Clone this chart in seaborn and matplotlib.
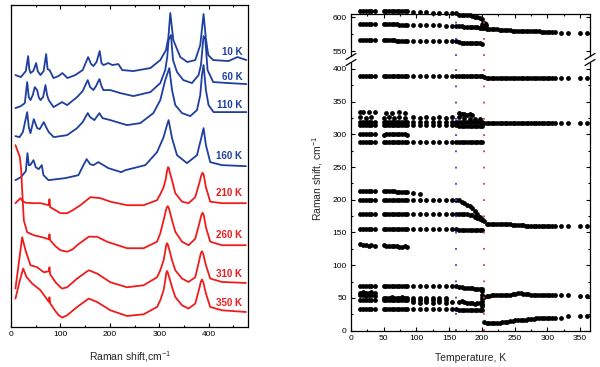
import matplotlib
matplotlib.use("Agg")
import matplotlib.pyplot as plt
from matplotlib.ticker import MultipleLocator
from matplotlib.lines import Line2D
import pandas as pd
import seaborn as sns

sns.set_theme(style="white")
plt.rcParams['font.family'] = ['Liberation Sans', 'DejaVu Sans']
plt.rcParams['mathtext.fontset'] = 'custom'
plt.rcParams['mathtext.rm'] = 'Liberation Sans'
plt.rcParams['mathtext.it'] = 'Liberation Sans:italic'
plt.rcParams['mathtext.bf'] = 'Liberation Sans:bold'

# ---------------- Left panel: Raman spectra (shift in cm-1, stacked intensity, a.u.) ----
shift_10K = [9, 20, 30, 34.7, 37, 39.4, 45, 50.9, 54, 59.6, 66, 71.1, 74, 78, 86, 96, 104, 114, 130, 145,
             156, 162, 166.7, 173, 179.4, 183, 187, 197, 205, 217, 225, 247.5, 282, 302, 313.5, 318.2,
             322.2, 328.3, 342.4, 356.6, 372.7, 382.8, 389.5, 394.3, 399, 409, 440, 458, 476]
int_10K = [252, 250, 256, 271, 258, 254, 256, 264, 256, 252, 256, 273, 258, 257, 249, 251, 254, 249, 252, 257,
           270, 263, 261, 265, 276, 264, 262, 264, 262, 263, 257, 256, 259, 267, 277, 289,
           314, 287, 270, 265, 267, 282, 313, 288, 272, 267, 266, 270, 267]

shift_60K = [9, 20, 28, 32.7, 36, 39.4, 44, 48.1, 52.9, 56, 59.6, 65, 69.7, 73, 76.4, 86, 103.4, 113.5, 133.7,
             145, 155.2, 160, 166.7, 172, 178.8, 183, 186.9, 201, 221, 247.5, 282, 302, 312, 316, 318.8,
             323.6, 327.7, 335.8, 348.5, 366, 379.4, 384.2, 389.5, 393, 397.6, 409, 440, 476]
int_60K = [219, 221, 224, 245, 230, 227, 232, 240, 237, 230, 227, 230, 242, 232, 227, 220, 225, 222, 230,
           236, 247, 240, 237, 241, 248, 241, 237, 237, 234, 231, 235, 244, 257, 270, 287,
           292, 267, 255, 247, 244, 252, 262, 291, 288, 257, 245, 244, 243]

shift_110K = [9, 17.2, 24, 32.7, 36, 39.4, 46.1, 52.9, 58, 66.3, 71, 76.4, 86.5, 113.5, 133.7, 145, 155.2,
              160, 168.7, 173, 178.8, 185, 201, 221, 234.7, 261.6, 287.9, 302, 312, 320.2, 325.7, 332.3,
              345.9, 362.6, 376.2, 382.8, 386.3, 389.5, 394.3, 399.6, 409.7, 440, 476]
int_110K = [191, 190, 195, 215, 200, 194, 208, 199, 198, 205, 200, 195, 190, 192, 199, 205, 214,
            210, 207, 210, 214, 209, 207, 204, 202, 204, 214, 227, 247, 259, 237, 222,
            214, 211, 217, 232, 252, 262, 237, 222, 215, 215, 215]

shift_160K = [9, 20, 30, 33.3, 36, 38.8, 45.5, 50, 56, 62.2, 65.7, 75.8, 109.5, 136.4, 146.5, 153.1, 160,
              166.7, 176.8, 197, 223, 231.3, 271.7, 295.4, 308.7, 315.5, 318.8, 325.7, 335.8, 356, 376.2,
              384.8, 389.5, 394.3, 403, 426.7, 475.2]
int_160K = [147, 150, 156, 174, 162, 162, 167, 160, 158, 162, 152, 147, 149, 152, 162, 168, 163,
            162, 165, 159, 155, 157, 162, 175, 190, 202, 207, 189, 172, 164, 172,
            189, 199, 182, 165, 162, 161]

shift_210K = [9, 19.2, 22.6, 29.3, 46, 59.6, 76.4, 77.8, 79.2, 90, 100, 113.5, 125, 140.4, 160.6, 180.8, 201,
              234.7, 268.3, 295.4, 302, 308.7, 313, 315.5, 317.6, 319.5, 321, 325.7, 332.3, 345.9, 359.2,
              372.7, 380.8, 385, 387.5, 390, 394.3, 403, 426.7, 475.2]
int_210K = [124, 129, 126.5, 124.5, 124, 124, 122, 128, 120, 117, 114, 114, 117, 122, 130, 129, 125.5,
            122, 122, 127, 133, 140, 148, 156, 160, 159, 155, 147, 134, 125.5, 124,
            130, 144, 152, 154.5, 152, 140, 125.5, 124, 124]

shift_260K = [9, 18, 20.6, 22.6, 25.9, 32.7, 46.1, 63, 76.4, 77.8, 79.2, 90, 100, 113.5, 125, 133.7, 157.2,
              174.1, 194.3, 234.7, 268.3, 295.4, 302, 308.7, 313, 315, 316.8, 318.5, 321, 325.7, 332.3,
              345.9, 359.2, 372.7, 380.8, 385, 387.5, 390, 394.3, 403, 426.7, 475.2]
int_260K = [182, 170, 157, 137, 107, 95, 92, 90, 88, 93, 87, 81, 77, 75.5, 78, 82, 90.5,
            90.5, 85.5, 79, 79, 85.5, 94, 107, 116, 119.5, 121, 120, 116, 107, 95.5,
            85.5, 82, 88.5, 103.5, 112, 114.5, 112, 100, 85.5, 82, 82]

shift_310K = [9, 16, 22.6, 29.3, 39.4, 52.9, 66.3, 76.4, 77.8, 79.2, 90, 100, 103.4, 113.5, 133.7, 157.2,
              174.1, 201, 234.7, 268.3, 295.4, 302, 308.7, 312, 314, 315.5, 317, 320, 325.7, 332.3, 345.9,
              359.2, 372.7, 380.8, 384, 386.3, 389, 394.3, 403, 426.7, 475.2]
int_310K = [38.7, 65, 90, 77, 62, 60, 55, 56, 60, 53, 45, 40, 38.7, 40, 48.7, 57,
            53.7, 45, 40, 42, 50, 57, 67, 76, 82, 84, 83, 78, 67, 57, 48.7,
            45.3, 50, 67, 74, 76, 73, 62, 48.7, 45.3, 44.3]

shift_350K = [9, 17, 24.6, 31.3, 42.8, 59.6, 76.4, 77.8, 79.2, 90, 96.6, 103.4, 113.5, 133.7, 157.2, 174.1,
              201, 234.7, 268.3, 295.4, 302, 308.7, 312, 314, 315.5, 317, 320, 325.7, 332.3, 345.9, 359.2,
              372.7, 380.8, 384, 386.3, 389, 394.3, 403, 426.7, 475.2]
int_350K = [28.7, 45, 58.7, 50.3, 43.7, 37, 25.5, 30, 24, 16, 12, 9.7, 12, 20.3, 28.7, 25.3,
            17, 11.3, 13, 20.3, 27, 37, 47, 54, 56.3, 55, 50, 40.3, 30.3, 22, 18.7,
            23.7, 38.7, 45.5, 47.7, 45, 33.7, 20.3, 17, 15.3]

spec_labels = ["10 K", "60 K", "110 K", "160 K", "210 K", "260 K", "310 K", "350 K"]
label_y = [275, 250, 222, 171, 134, 92, 53, 24]
BLUE = "#1f3f9f"
RED = "#f01c1c"
spec_colors = [BLUE, BLUE, BLUE, BLUE, RED, RED, RED, RED]

# ---------------- Right panel: mode frequencies vs temperature ----------------
T_LOW = [13, 19, 23, 27, 31, 36, 50, 54, 58, 62, 66, 70, 74, 78, 82, 86, 95, 105, 115, 125, 135, 145, 155, 160]
T_MID = [165, 169, 173, 177, 181, 185, 189, 193, 197, 200]
T_HIGH = [203, 207, 211, 215, 219, 223, 227, 231, 235, 239, 243, 247, 251, 255, 259, 263, 267, 271,
          275, 279, 283, 287, 291, 295, 299, 303, 307, 311]
T_TOP = [321, 332, 349, 361]
T_SUB = [13, 19, 23, 27, 31, 36, 50, 54, 58, 62, 66, 70, 74, 78, 82, 86]

f_609_low = [609, 609, 609, 609, 609, 609, 609, 609, 609, 609, 609, 609, 609, 609, 609, 609,
             608, 608, 608, 607, 607, 607, 606, 606]
f_609_mid = [604, 604, 603, 603, 603, 602, 601, 600, 599, 598]
f_590_low = [590, 590, 590, 590, 590, 590, 590, 590, 590, 590, 590, 590, 589, 589, 589, 589,
             589, 588, 588, 588, 588, 587, 587, 587]
f_590_mid = [587, 587, 586, 586, 586, 586, 585, 585, 584, 584]
f_580_high = [584, 583, 583, 582, 582, 582, 581, 581, 581, 581, 581, 580, 580, 580, 580, 580, 580, 579,
              579, 579, 579, 579, 578, 578, 578, 578, 578, 578]
f_577_top = [577, 577, 577, 577]
f_567_low = [567, 567, 567, 567, 567, 567, 567, 567, 566, 566, 566, 565, 565, 565, 565, 565,
             565, 565, 565, 565, 565, 565, 565, 565]
f_567_mid = [563, 562, 562, 562, 562, 562, 562, 562, 562, 561]

f_389_lm = [389, 389, 389, 389, 389, 389, 389, 389, 389, 389, 389, 389, 389, 389, 389, 389, 389,
            389, 389, 389, 389, 389, 389, 389, 389, 389, 389, 389, 389, 389, 389, 389, 389, 389]
f_386_ht = [387, 386, 386, 386, 386, 386, 386, 386, 386, 386, 386, 386, 386, 386, 386, 386,
            386, 386, 386, 386, 386, 386, 386, 386, 386, 386, 386, 386, 386, 386, 386, 386]
T_334 = [13, 19, 27, 36, 54, 62, 74, 82, 165, 169, 173, 177, 181, 185]
f_334 = [334, 334, 334, 334, 333, 333, 334, 333, 332, 331, 331, 330, 331, 330]
T_326 = [13, 23, 31, 50, 58, 66, 74, 82, 95, 105, 115, 125, 135, 145, 155, 165, 173, 181, 189, 197]
f_326 = [326, 325, 326, 325, 326, 325, 326, 325, 326, 325, 326, 325, 326, 325, 326, 326, 325, 324, 324, 323]
f_319_lm = [319, 319, 319, 319, 319, 319, 319, 319, 319, 319, 319, 319, 319, 319, 319, 319, 319,
            319, 319, 319, 319, 319, 319, 319, 319, 319, 319, 319, 319, 319, 319, 319, 319, 319]
f_317_ht = [317, 317, 317, 317, 317, 317, 317, 317, 317, 317, 317, 317, 317, 317, 317, 317,
            317, 317, 317, 317, 317, 317, 317, 317, 317, 317, 317, 317, 317, 317, 317, 317]
f_314_lm = [314, 314, 314, 314, 314, 314, 314, 314, 314, 314, 314, 314, 314, 314, 314, 314, 314,
            314, 314, 314, 314, 314, 314, 314, 313, 313, 313, 313, 313, 313, 313, 313, 313, 313]
f_300 = [300, 300, 301, 300, 300, 300, 299, 300, 300, 301, 300, 300, 300, 300, 300, 299]
f_288_lm = [288, 288, 288, 288, 288, 288, 288, 288, 288, 288, 288, 288, 288, 288, 288, 288, 288,
            288, 288, 288, 288, 288, 288, 288, 288, 288, 288, 288, 288, 288, 288, 288, 288, 288]
T_214 = [13, 19, 23, 27, 31, 36, 50, 54, 58, 62, 66, 70, 74, 78, 82, 86, 95, 105]
f_214 = [214, 214, 214, 213, 213, 213, 213, 213, 213, 213, 213, 212, 212, 212, 212, 212, 210, 209]
f_199_lm = [199, 199, 199, 199, 199, 199, 199, 199, 199, 199, 199, 199, 199, 199, 199, 199, 199,
            199, 199, 199, 199, 199, 199, 199, 199, 197, 195, 192, 190, 187, 183, 179, 174, 170]
f_180_lm = [179, 179, 179, 179, 179, 179, 179, 179, 179, 179, 179, 179, 179, 179, 179, 179, 179,
            179, 179, 179, 179, 179, 179, 179, 179, 179, 179, 178, 177, 176, 174, 172, 171, 169]
f_155_lm = [155, 155, 155, 155, 155, 155, 155, 155, 155, 155, 155, 155, 155, 155, 155, 155, 155,
            155, 155, 155, 155, 155, 155, 155, 154, 154, 154, 154, 154, 154, 154, 154, 154, 154]
f_162_ht = [168, 163, 163, 163, 163, 163, 163, 163, 163, 163, 163, 162, 162, 161, 161, 161,
            160, 160, 160, 160, 160, 160, 160, 160, 160, 160, 160, 160, 160, 160, 160, 160]
f_130 = [132, 131, 131, 130, 131, 130, 131, 130, 130, 129, 129, 129, 128, 128, 129, 128]
f_67_lm = [68, 68, 68, 68, 68, 68, 68, 68, 68, 68, 68, 68, 68, 68, 68, 68, 68,
           68, 68, 68, 68, 68, 68, 68, 66, 66, 65, 65, 65, 65, 64, 64, 64, 64]
T_58 = [13, 19, 23, 27, 31, 36]
f_58 = [58, 59, 58, 58, 59, 58]
f_54 = [54, 54, 53, 54, 54, 53]
T_50 = [50, 54, 58, 62, 66, 70, 74, 78, 82, 86, 95, 105, 115, 125, 135, 145]
f_50 = [50, 50, 50, 51, 50, 50, 50, 51, 50, 50, 50, 50, 50, 50, 50, 50]
T_47 = [13, 19, 23, 27, 31, 36, 50, 54, 58, 62, 66, 70, 74, 78, 82, 86, 95, 105, 115, 125, 135, 145]
f_47 = [47, 47, 47, 47, 47, 47, 47, 47, 47, 47, 47, 47, 47, 47, 47, 47, 47, 47, 47, 47, 47, 47]
T_43 = [95, 105, 115, 125, 135, 145, 155, 165, 169, 173, 177, 181, 185, 189, 193, 197]
f_43 = [44, 43, 44, 43, 44, 43, 44, 44, 45, 44, 43, 42, 42, 41, 42, 42]
T_200 = [200, 200, 200, 200, 200, 200]
f_200 = [37, 41, 45, 50, 55, 60]
f_33_lm = [33, 33, 33, 33, 33, 33, 33, 33, 33, 33, 33, 33, 33, 33, 33, 33, 33,
           33, 33, 33, 33, 33, 33, 33, 32, 32, 32, 32, 32, 32, 32, 32, 32, 32]
f_55_ht = [52, 53, 53, 54, 54, 54, 54, 55, 55, 55, 55, 56, 56, 57, 57, 56,
           56, 56, 55, 55, 55, 55, 54, 54, 54, 54, 54, 54, 54, 54, 53, 53]
f_soft_ht = [13, 11, 11, 11, 11, 11, 12, 13, 14, 14, 15, 15, 16, 16, 17, 17,
             17, 18, 18, 18, 19, 19, 20, 20, 20, 20, 20, 20, 20, 22, 23, 23]
T_ring = [203]
f_ring = [588]
T_LINE_BLUE = 160
T_LINE_RED = 203

# ---------------- Build tables ----------------
T_LM = T_LOW + T_MID
T_HT = T_HIGH + T_TOP
branches = [
    (T_LOW, f_609_low), (T_MID, f_609_mid), (T_LOW, f_590_low), (T_MID, f_590_mid),
    (T_HIGH, f_580_high), (T_TOP, f_577_top), (T_LOW, f_567_low), (T_MID, f_567_mid),
    (T_LM, f_389_lm), (T_HT, f_386_ht), (T_334, f_334), (T_326, f_326), (T_LM, f_319_lm),
    (T_HT, f_317_ht), (T_LM, f_314_lm), (T_SUB, f_300), (T_LM, f_288_lm), (T_214, f_214),
    (T_LM, f_199_lm), (T_LM, f_180_lm), (T_LM, f_155_lm), (T_HT, f_162_ht), (T_SUB, f_130),
    (T_LM, f_67_lm), (T_58, f_58), (T_58, f_54), (T_50, f_50), (T_47, f_47), (T_43, f_43),
    (T_200, f_200), (T_LM, f_33_lm), (T_HT, f_55_ht), (T_HT, f_soft_ht),
]
rows = []
for i, (tt, ff) in enumerate(branches):
    assert len(tt) == len(ff), (i, len(tt), len(ff))
    for t, f in zip(tt, ff):
        rows.append({"branch": i, "T": t, "f": f})
modes = pd.DataFrame(rows)
upper = modes[modes["f"] > 500]
lower = modes[modes["f"] <= 500]

# ---------------- Figure ----------------
W, H = 600, 367
fig = plt.figure(figsize=(6, 3.67), dpi=100)
fig.patch.set_facecolor("white")


def frac(x0, y0, x1, y1):
    return [x0 / W, 1 - y1 / H, (x1 - x0) / W, (y1 - y0) / H]


def style(ax):
    for s in ax.spines.values():
        s.set_color("black")
        s.set_linewidth(0.9)
    ax.tick_params(which="both", direction="in", colors="black", labelsize=6, width=0.8, pad=3)
    ax.tick_params(which="major", length=3)
    ax.tick_params(which="minor", length=1.6)


# Left
axL = fig.add_axes(frac(11, 5, 248.3, 327.3))
for x, y, col in zip([shift_10K, shift_60K, shift_110K, shift_160K, shift_210K, shift_260K, shift_310K, shift_350K],
                     [int_10K, int_60K, int_110K, int_160K, int_210K, int_260K, int_310K, int_350K],
                     spec_colors):
    sns.lineplot(x=x, y=y, ax=axL, color=col, linewidth=1.3, estimator=None, sort=False)
for lab, ly, col in zip(spec_labels, label_y, spec_colors):
    axL.text(468, ly, lab, ha="right", va="center", color=col, fontsize=7, fontweight="bold")
axL.set_xlim(0, 480)
axL.set_ylim(0, 322)
style(axL)
axL.xaxis.set_major_locator(MultipleLocator(100))
axL.xaxis.set_minor_locator(MultipleLocator(50))
axL.tick_params(axis="x", which="both", top=True, bottom=True)
axL.tick_params(axis="y", which="both", left=False, right=False, labelleft=False)
axL.set_yticks([])
axL.set_ylabel("")
axL.set_xlabel(r"Raman shift,cm$^{-1}$", fontsize=7.5, labelpad=8)

# Right upper / lower
axU = fig.add_axes(frac(351, 14, 590, 56))
axD = fig.add_axes(frac(351, 63, 590, 330.7))
sns.scatterplot(data=upper, x="T", y="f", ax=axU, color="black", s=12, linewidth=0, clip_on=False)
sns.scatterplot(x=T_ring, y=f_ring, ax=axU, color="black", s=40, linewidth=0, clip_on=False)
sns.scatterplot(data=lower, x="T", y="f", ax=axD, color="black", s=12, linewidth=0, clip_on=False)
for ax in (axU, axD):
    ax.axvline(T_LINE_BLUE, color="#3a3acc", lw=1.3, ls=(0, (1, 8)))
    ax.axvline(T_LINE_RED, color="#ff3030", lw=1.3, ls=(0, (1, 8)))
    ax.set_xlim(0, 365)
    style(ax)
    ax.xaxis.set_major_locator(MultipleLocator(50))
    ax.xaxis.set_minor_locator(MultipleLocator(25))
    ax.tick_params(axis="y", which="both", left=True, right=True)
    ax.set_ylabel("")
axU.set_ylim(542.6, 604.9)
axU.set_yticks([550, 600])
axU.yaxis.set_minor_locator(MultipleLocator(25))
axU.spines["bottom"].set_visible(False)
axU.tick_params(axis="x", which="both", top=True, bottom=False, labelbottom=False)
axU.set_xlabel("")
axD.set_ylim(0, 408.9)
axD.yaxis.set_major_locator(MultipleLocator(50))
axD.yaxis.set_minor_locator(MultipleLocator(25))
axD.spines["top"].set_visible(False)
axD.tick_params(axis="x", which="both", top=False, bottom=True)
axD.set_xlabel("Temperature, K", fontsize=7.5, labelpad=8)
fig.text(318 / W, 1 - 178 / H, r"Raman shift, cm$^{-1}$", rotation=90, ha="center", va="center",
         fontsize=7.5)

# axis break marks
for xc in (351, 590):
    for yc in (56.5, 62.5):
        fig.add_artist(Line2D([(xc - 5) / W, (xc + 5) / W], [1 - (yc + 3) / H, 1 - (yc - 3) / H],
                              color="black", lw=0.9))

fig.savefig("out.png", dpi=100, facecolor="white")
